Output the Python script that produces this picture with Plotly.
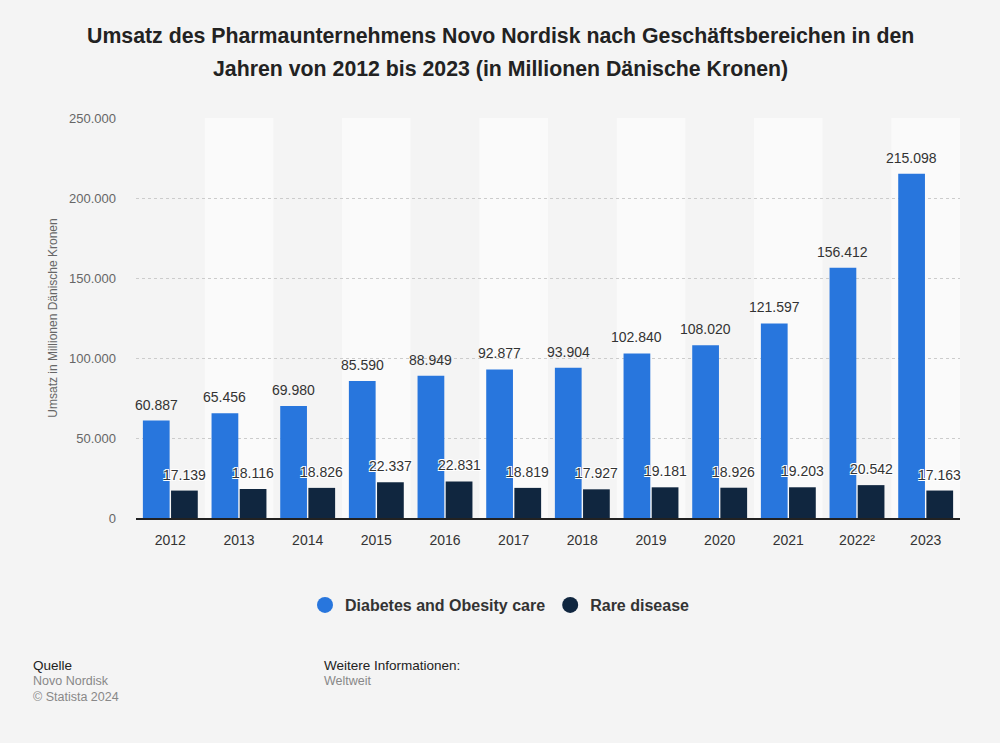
import plotly.graph_objects as go

years = ["2012", "2013", "2014", "2015", "2016", "2017", "2018", "2019", "2020", "2021", "2022²", "2023"]
diabetes = [60887, 65456, 69980, 85590, 88949, 92877, 93904, 102840, 108020, 121597, 156412, 215098]
rare = [17139, 18116, 18826, 22337, 22831, 18819, 17927, 19181, 18926, 19203, 20542, 17163]
y_ticks = [0, 50000, 100000, 150000, 200000, 250000]
y_tick_labels = ["0", "50.000", "100.000", "150.000", "200.000", "250.000"]
title_lines = ["Umsatz des Pharmaunternehmens Novo Nordisk nach Geschäftsbereichen in den",
               "Jahren von 2012 bis 2023 (in Millionen Dänische Kronen)"]


def fmt(v):
    return f"{v:,}".replace(",", ".")


FONT = "Liberation Sans, Arial, sans-serif"
W, H = 1000, 743
ML, MR, MT, MB = 136, 40, 118, 225
plot_w = W - ML - MR
plot_h = H - MT - MB
BARGAP, GROUPGAP = 0.18, 0.05
cat_px = plot_w / len(years)
slot_px = cat_px * (1 - BARGAP) / 2
half_shift = slot_px / 2


def px2paper(px, py):
    return (px - ML) / plot_w, (H - MB - py) / plot_h


fig = go.Figure()
fig.add_trace(go.Bar(
    x=years, y=diabetes, name="Diabetes and Obesity care", showlegend=False,
    marker=dict(color="#2876dd", line=dict(width=0)), hoverinfo="x+y",
))
fig.add_trace(go.Bar(
    x=years, y=rare, name="Rare disease", showlegend=False,
    marker=dict(color="#10263f", line=dict(width=0)), hoverinfo="x+y",
))
fig.add_trace(go.Scatter(x=[None], y=[None], mode="markers", name="Diabetes and Obesity care",
                         marker=dict(symbol="circle", size=17, color="#2876dd")))
fig.add_trace(go.Scatter(x=[None], y=[None], mode="markers", name="Rare disease",
                         marker=dict(symbol="circle", size=17, color="#10263f")))

shapes = []
for i in range(len(years)):
    if i % 2 == 1:
        shapes.append(dict(type="rect", xref="x", yref="paper", x0=i - 0.5, x1=i + 0.5,
                           y0=0, y1=1, fillcolor="#fafafa", line=dict(width=0), layer="below"))

annotations = []
# value labels (category index used as x position on the category axis)
for i, v in enumerate(diabetes):
    annotations.append(dict(text=fmt(v), x=i, y=v, xref="x", yref="y", xshift=-half_shift, yshift=6,
                            xanchor="center", yanchor="bottom", showarrow=False,
                            font=dict(family=FONT, size=14, color="#333333")))
for i, v in enumerate(rare):
    annotations.append(dict(text=fmt(v), x=i, y=v, xref="x", yref="y", xshift=half_shift, yshift=6,
                            xanchor="center", yanchor="bottom", showarrow=False,
                            font=dict(family=FONT, size=14, color="#333333",
                                      shadow="-1px -1px 0 #fff, 1px -1px 0 #fff, -1px 1px 0 #fff, 1px 1px 0 #fff")))

for line, py in zip(title_lines, [36, 69]):
    ax, ay = px2paper(500, py)
    annotations.append(dict(text="<b>" + line + "</b>", xref="paper", yref="paper", x=ax, y=ay,
                            xanchor="center", yanchor="middle", showarrow=False,
                            font=dict(family=FONT, size=21.3, color="#222222")))

footer = [("Quelle", 31, 665, True), ("Novo Nordisk", 31, 681, False), ("© Statista 2024", 31, 697, False),
          ("Weitere Informationen:", 322, 665, True), ("Weltweit", 322, 681, False)]
for text, px, py, head in footer:
    ax, ay = px2paper(px, py)
    annotations.append(dict(text=text, xref="paper", yref="paper", x=ax, y=ay,
                            xanchor="left", yanchor="middle", showarrow=False,
                            font=dict(family=FONT, size=13.5 if head else 12.5,
                                      color="#222222" if head else "#888888")))

fig.update_layout(
    width=W, height=H,
    paper_bgcolor="#f4f4f4", plot_bgcolor="#f4f4f4",
    margin=dict(l=ML, r=MR, t=MT, b=MB),
    barmode="group", bargap=BARGAP, bargroupgap=GROUPGAP,
    font=dict(family=FONT),
    shapes=shapes,
    annotations=annotations,
    xaxis=dict(type="category", showgrid=False, showline=True, linecolor="#222222", linewidth=1.5,
               tickfont=dict(family=FONT, size=14, color="#333333"), ticks="",
               ticklabelstandoff=8, range=[-0.5, 11.5]),
    yaxis=dict(range=[0, 250000], tickvals=y_ticks, ticktext=y_tick_labels,
               showgrid=True, gridcolor="#cccccc", griddash="dot", gridwidth=1,
               zeroline=False, ticks="", ticklabelstandoff=19,
               tickfont=dict(family=FONT, size=13, color="#666666"),
               title=dict(text="Umsatz in Millionen Dänische Kronen", standoff=8,
                          font=dict(family=FONT, size=12, color="#666666"))),
    legend=dict(orientation="h", x=px2paper(500, 0)[0], xanchor="center", y=px2paper(0, 605)[1],
                yanchor="middle",
                font=dict(family=FONT, size=16, color="#333333", weight="bold"),
                bgcolor="rgba(0,0,0,0)"),
)

fig.write_html("out.html", config={"displayModeBar": False},
               post_script="document.body.style.margin='0';document.body.style.background='#f4f4f4';")
